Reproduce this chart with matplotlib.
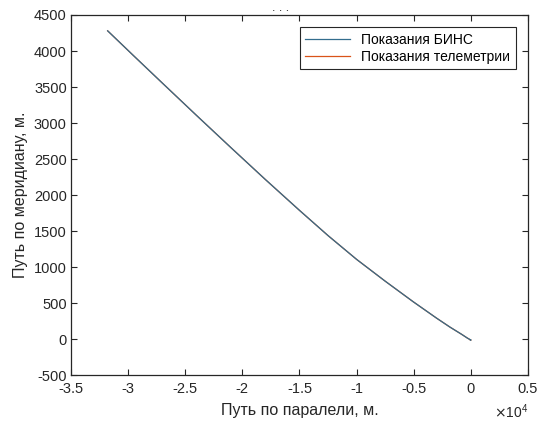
import matplotlib

matplotlib.use("Agg")
import matplotlib.pyplot as plt
from matplotlib.ticker import FuncFormatter

plt.rcParams["font.family"] = ["Liberation Sans", "DejaVu Sans"]
plt.rcParams["axes.unicode_minus"] = False

# path east (parallel) and north (meridian), metres
bins_x = [-31790, -29500, -27000, -24000, -21000, -18000, -15000, -12500,
          -10000, -7500, -5050, -3000, -1840, -800, -300, -100, -30, 0]
bins_y = [4280, 3932, 3555, 3105, 2660, 2220, 1790, 1440,
          1110, 808, 523, 295, 172, 70, 18, 0, -12, -8]
tele_x = bins_x
tele_y = bins_y

XTICKS = [-35000, -30000, -25000, -20000, -15000, -10000, -5000, 0, 5000]
YTICKS = list(range(-500, 4501, 500))
AX_COLOR = "#262626"

fig = plt.figure(figsize=(5.44, 4.28), dpi=100)
ax = fig.add_axes([0.1305, 0.1227, 0.8401, 0.8423])

ax.plot(tele_x, tele_y, color="#D95319", lw=0.9, label="Показания телеметрии")
ax.plot(bins_x, bins_y, color="#336d8e", lw=0.9, label="Показания БИНС")

ax.set_xlim(-35000, 5000)
ax.set_ylim(-500, 4500)
ax.set_xticks(XTICKS)
ax.set_yticks(YTICKS)
ax.xaxis.set_major_formatter(FuncFormatter(lambda v, _: f"{v / 1e4:g}"))
ax.tick_params(direction="in", length=4, width=0.8, top=True, right=True,
               labelsize=10.5, colors=AX_COLOR, pad=3)
ax.tick_params(axis="x", pad=5)
for s in ax.spines.values():
    s.set_color(AX_COLOR)
    s.set_linewidth(0.9)

ax.set_xlabel("Путь по паралели, м.", fontsize=11.5, color=AX_COLOR, labelpad=5)
ax.set_ylabel("Путь по меридиану, м.", fontsize=11.5, color=AX_COLOR, labelpad=4)
ax.text(1.0, -0.075, r"$\times\mathregular{10^4}$", transform=ax.transAxes,
        ha="right", va="top", fontsize=10, color=AX_COLOR)
fig.text(0.515, 0.995, ". . .", ha="center", va="top", fontsize=9, color=AX_COLOR)

h, l = ax.get_legend_handles_labels()
leg = ax.legend(h[::-1], l[::-1], loc="upper right", fontsize=10,
                fancybox=False, framealpha=1, edgecolor=AX_COLOR,
                borderaxespad=0.9, handlelength=3.2, borderpad=0.4,
                labelspacing=0.2)
leg.get_frame().set_linewidth(0.8)

fig.savefig("out.png", dpi=100)
